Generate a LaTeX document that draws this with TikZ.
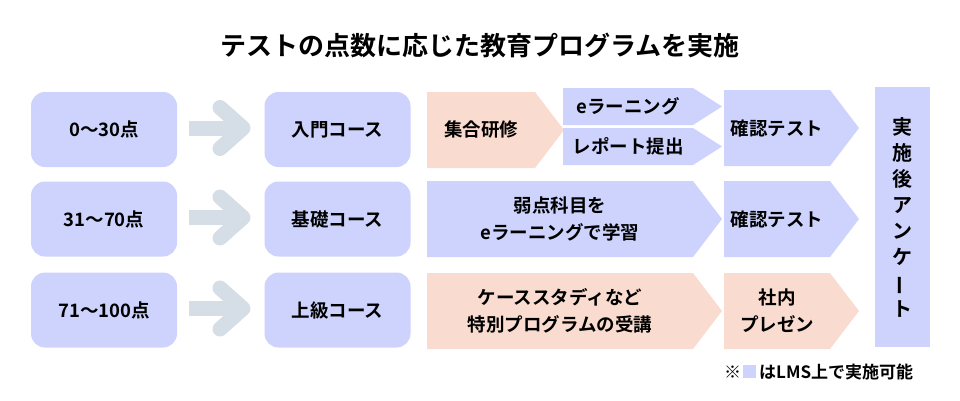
\documentclass[tikz,border=0pt]{standalone}
\usepackage{fontspec}
\setmainfont{Noto Sans CJK JP}[BoldFont={Noto Sans CJK JP Bold}]
\usepackage{graphicx}
\definecolor{lav}{HTML}{CDD3FC}
\definecolor{pch}{HTML}{F9DCCF}
\definecolor{gar}{HTML}{D5DDE6}
\begin{document}
\begin{tikzpicture}[x=1pt,y=-1pt,
  txt/.style={font=\bfseries\fontsize{18.5}{27}\selectfont,align=center,text=black},
  rbox/.style={fill=lav,rounded corners=14pt,minimum width=146pt,minimum height=75pt,inner sep=0pt,txt},
  garr/.style={draw=gar,line width=15pt,line cap=round,line join=round}]
\useasboundingbox (0,0) rectangle (960,400);
\node[font=\bfseries\fontsize{26}{30}\selectfont] (title) at (480,45) {テストの点数に応じた教育プログラムを実施};
% left and course boxes
\foreach \n/\y/\a/\b in {1/129.5/0〜30点/入門コース,2/219/31〜70点/基礎コース,3/310/71〜100点/上級コース}{
  \node[rbox] (s\n) at (104,\y) {\a};
  \node[rbox] (c\n) at (337.5,\y) {\b};
  \draw[draw=gar,line width=15pt] (189,\y-1.5) -- (236,\y-1.5);
  \draw[garr] (220,\y-22) -- (243,\y-1.5) -- (220,\y+19);
}
\newcommand\chev[6]{\fill[#5] (#1,#3) -- (#2,#3) -- (#2+29,{(#3+#4)/2}) -- (#2,#4) -- (#1,#4) -- cycle;
  \node[txt] (#6) at ({(#1+#2)/2},{(#3+#4)/2}) {};}
\chev{427}{535}{92}{168}{pch}{a1}
\node[txt] at (a1) {集合研修};
\chev{563}{693}{88}{125}{lav}{a2}
\node[txt] at (a2) {eラーニング};
\chev{563}{693}{128}{165}{lav}{a3}
\node[txt] at (a3) {レポート提出};
\chev{724}{830}{90}{166}{lav}{a4}
\node[txt] at (a4) {確認テスト};
\chev{427}{693}{181}{257}{lav}{b1}
\node[txt] at (b1) {弱点科目を\\eラーニングで学習};
\chev{724}{830}{181}{257}{lav}{b2}
\node[txt] at (b2) {確認テスト};
\chev{427}{693}{273}{349}{pch}{d1}
\node[txt] at (d1) {ケーススタディなど\\特別プログラムの受講};
\chev{724}{830}{273}{349}{pch}{d2}
\node[txt] at (d2) {社内\\プレゼン};
\fill[lav] (875,87) rectangle (930,347);
\node[font=\bfseries\fontsize{20}{26}\selectfont,align=center] (v) at (902.5,217) {実\\施\\後\\ア\\ン\\ケ\\\rotatebox[origin=c]{90}{ー}\\ト};
\node[font=\bfseries\fontsize{17}{18}\selectfont,anchor=west,inner sep=0pt] (lg1) at (724,372) {※};
\fill[lav] (743,365) rectangle (756,378);
\node[font=\bfseries\fontsize{17}{18}\selectfont,anchor=west,inner sep=0pt] (lg2) at (759,372) {はLMS上で実施可能};
\end{tikzpicture}
\end{document}
